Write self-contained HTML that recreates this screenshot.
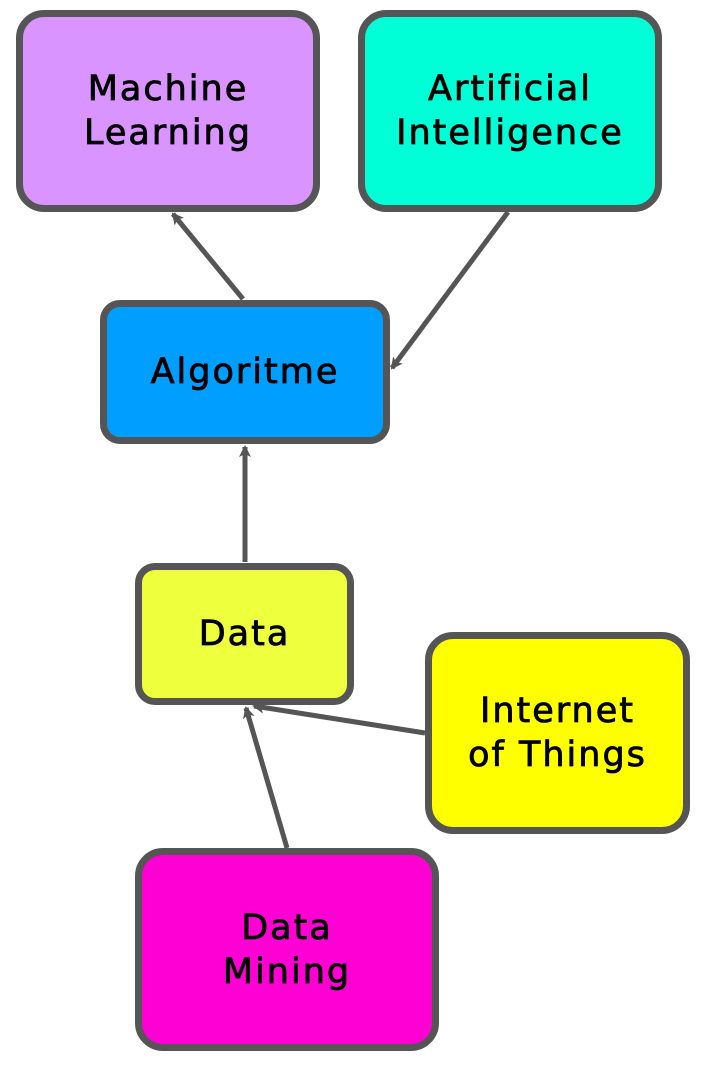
<!DOCTYPE html>
<html><head><meta charset="utf-8"><style>
html,body{margin:0;padding:0;background:#fff;width:703px;height:1069px;overflow:hidden}
.b{position:absolute;box-sizing:border-box;border:7px solid #555;border-radius:28px;display:flex;align-items:center;justify-content:center;text-align:center;font-family:"DejaVu Sans","Liberation Sans",sans-serif;font-weight:normal;font-size:35px;line-height:44px;color:#000;letter-spacing:2px;-webkit-text-stroke:0.8px #000}
svg{position:absolute;left:0;top:0}
</style></head><body>
<div class="b" style="left:16px;top:10px;width:304px;height:202px;background:#d994ff">Machine<br>Learning</div>
<div class="b" style="left:358px;top:10px;width:304px;height:202px;background:#00ffd6">Artificial<br>Intelligence</div>
<div class="b" style="left:100px;top:300px;width:290px;height:144px;background:#009fff;border-radius:20px">Algoritme</div>
<div class="b" style="left:135px;top:563px;width:219px;height:142px;background:#eeff3e;border-radius:20px">Data</div>
<div class="b" style="left:425px;top:632px;width:265px;height:202px;background:#ffff00">Internet<br>of Things</div>
<div class="b" style="left:135px;top:848px;width:304px;height:203px;background:#ff00d4">Data<br>Mining</div>
<svg width="703" height="1069">
<defs><marker id="a" markerWidth="14" markerHeight="14" refX="10" refY="7" orient="auto" markerUnits="userSpaceOnUse"><path d="M0,1 L12,7 L0,13 L3,7z" fill="#555"/></marker></defs>
<g stroke="#555" stroke-width="5" fill="none" marker-end="url(#a)">
<line x1="243" y1="299" x2="173" y2="214"/>
<line x1="508" y1="212" x2="392" y2="368"/>
<line x1="245" y1="562" x2="245" y2="447"/>
<line x1="425" y1="733" x2="254" y2="706"/>
<line x1="287" y1="848" x2="246" y2="708"/>
</g></svg>
</body></html>
